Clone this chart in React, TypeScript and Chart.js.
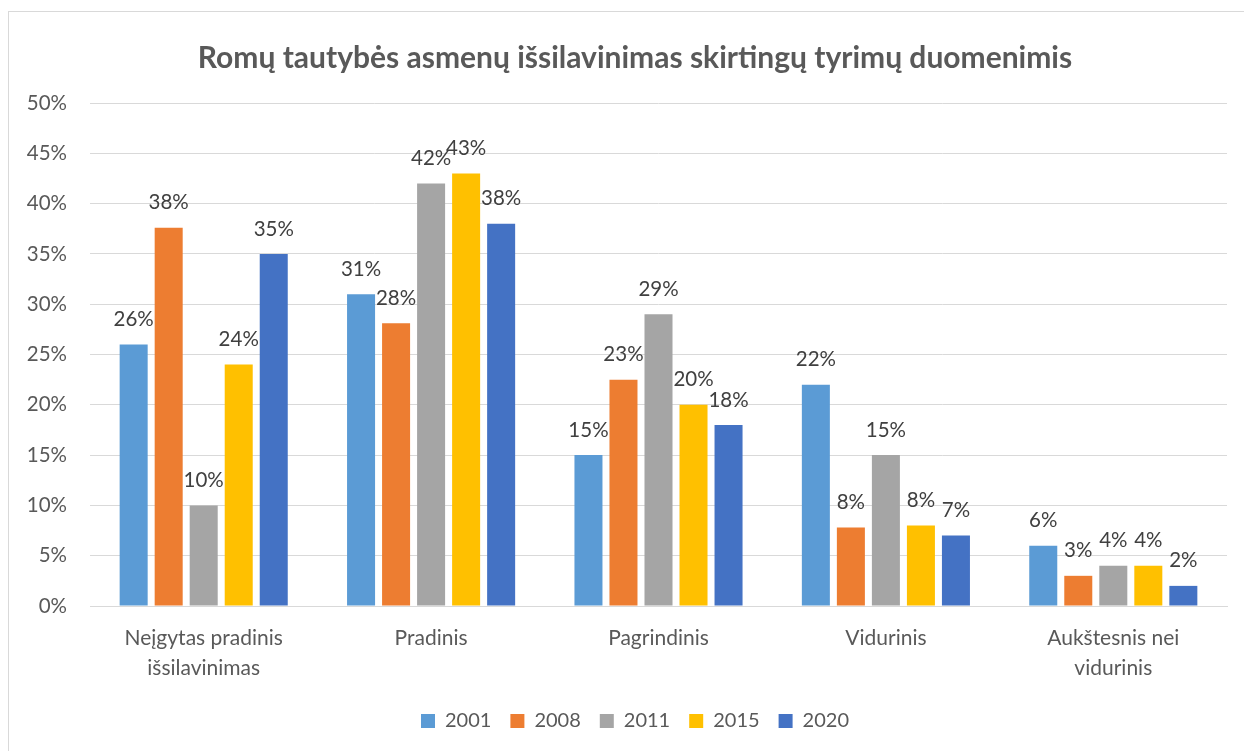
import React, { useEffect, useRef } from "react";
import { Chart, registerables } from "chart.js";

Chart.register(...registerables);

const chartTitle = "Romų tautybės asmenų išsilavinimas skirtingų tyrimų duomenimis";
const categories: (string | string[])[] = [
  ["Neįgytas pradinis", "išsilavinimas"],
  "Pradinis",
  "Pagrindinis",
  "Vidurinis",
  ["Aukštesnis nei", "vidurinis"],
];
const years = ["2001", "2008", "2011", "2015", "2020"];
const values2001 = [26, 31, 15, 22, 6];
const values2008 = [37.6, 28.1, 22.5, 7.8, 3];
const values2011 = [10, 42, 29, 15, 4];
const values2015 = [24, 43, 20, 8, 4];
const values2020 = [35, 38, 18, 7, 2];
const seriesValues = [values2001, values2008, values2011, values2015, values2020];
const seriesColors = ["#5B9BD5", "#ED7D31", "#A5A5A5", "#FFC000", "#4472C4"];
const yMin = 0;
const yMax = 50;
const yStep = 5;

const FONT = "Lato, 'Noto Sans', sans-serif";

const dataLabels = {
  id: "dataLabels",
  afterDatasetsDraw(chart: any) {
    const ctx = chart.ctx;
    ctx.save();
    ctx.font = `20.5px ${FONT}`;
    ctx.fillStyle = "#404040";
    ctx.textAlign = "center";
    ctx.textBaseline = "middle";
    chart.data.datasets.forEach((ds: any, i: number) => {
      chart.getDatasetMeta(i).data.forEach((bar: any, j: number) => {
        ctx.fillText(Math.round(ds.data[j]) + "%", bar.x, bar.y - 25);
      });
    });
    ctx.restore();
  },
};

export default function App() {
  const ref = useRef<HTMLCanvasElement | null>(null);

  useEffect(() => {
    if (!ref.current) return;
    const chart = new Chart(ref.current, {
      type: "bar",
      data: {
        labels: categories,
        datasets: years.map((y, i) => ({
          label: y,
          data: seriesValues[i],
          backgroundColor: seriesColors[i],
          borderWidth: 0,
          categoryPercentage: 0.77,
          barPercentage: 0.8,
        })),
      },
      options: {
        responsive: false,
        animation: false,
        devicePixelRatio: 1,
        layout: { padding: { left: 0, right: 0, top: 0, bottom: 10 } },
        plugins: {
          title: {
            display: true,
            text: chartTitle,
            color: "#595959",
            font: { family: FONT, size: 30, weight: "bold" },
            padding: { top: 28, bottom: 27 },
          },
          legend: {
            position: "bottom",
            labels: {
              boxWidth: 14,
              boxHeight: 14,
              padding: 19,
              color: "#595959",
              font: { family: FONT, size: 20 },
            },
          },
          tooltip: { enabled: false },
        },
        scales: {
          x: {
            grid: { display: false },
            border: { display: true, color: "#D9D9D9", width: 1 },
            ticks: {
              color: "#595959",
              font: { family: FONT, size: 21, lineHeight: 1.43 },
              padding: 9,
              maxRotation: 0,
              autoSkip: false,
            },
            afterFit: (s: any) => {
              s.height = 86;
            },
          },
          y: {
            min: yMin,
            max: yMax,
            ticks: {
              stepSize: yStep,
              color: "#595959",
              font: { family: FONT, size: 20.5 },
              padding: 23,
              callback: (v: any) => v + "%",
            },
            grid: { color: "#D9D9D9", drawTicks: false },
            border: { display: false },
            afterFit: (s: any) => {
              s.width = 81;
            },
          },
          yRight: {
            position: "right",
            min: yMin,
            max: yMax,
            grid: { display: false },
            border: { display: false },
            ticks: { display: false },
            afterFit: (s: any) => {
              s.width = 34;
            },
          },
        },
      },
      plugins: [dataLabels],
    });
    return () => chart.destroy();
  }, []);

  return (
    <div
      style={{
        position: "fixed",
        left: 8,
        top: 11,
        width: 1236,
        height: 740,
        overflow: "hidden",
        boxSizing: "border-box",
        borderLeft: "1px solid #D9D9D9",
        borderTop: "1px solid #D9D9D9",
        background: "#fff",
      }}
    >
      <canvas ref={ref} width={1252} height={739} style={{ display: "block", width: 1252, height: 739 }} />
    </div>
  );
}
